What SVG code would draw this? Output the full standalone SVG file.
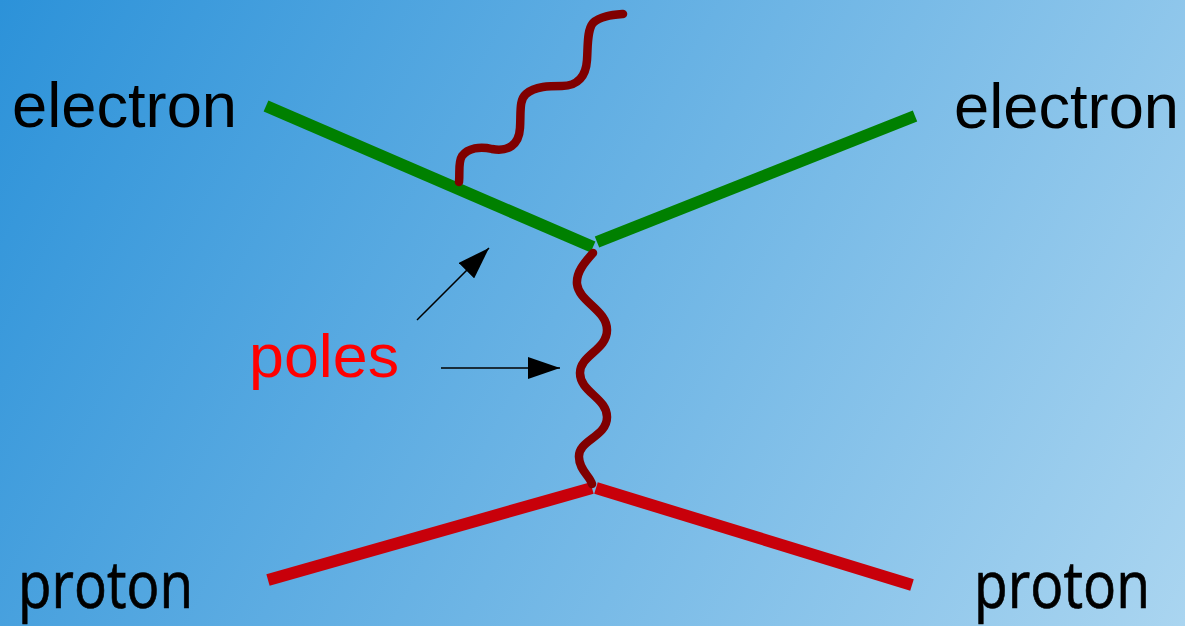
<svg xmlns="http://www.w3.org/2000/svg" width="1185" height="626" viewBox="0 0 1185 626">
<defs>
<linearGradient id="bg" gradientUnits="userSpaceOnUse" x1="0" y1="0" x2="1185" y2="626">
<stop offset="0" stop-color="#2c92d9"/>
<stop offset="1" stop-color="#aad5f0"/>
</linearGradient>
<marker id="ah" markerUnits="userSpaceOnUse" markerWidth="32" markerHeight="22" refX="32" refY="11" orient="auto" viewBox="0 0 32 22">
<path d="M0,0 L32,11 L0,22 z" fill="#000"/>
</marker>
<style>
.lbl{font-family:"Liberation Sans",Arial,sans-serif;fill:#000}
.prt{font-family:"Open Sans","DejaVu Sans",sans-serif;fill:#000;stroke:#000;stroke-width:0.7}
.el{stroke:#008000;stroke-width:12;fill:none}
.pr{stroke:#c8000a;stroke-width:12;fill:none}
.ph{stroke:#800000;stroke-width:8.5;fill:none;stroke-linecap:round;stroke-linejoin:round}
.ar{stroke:#000;stroke-width:1.5;fill:none;marker-end:url(#ah)}
</style>
</defs>
<rect width="1185" height="626" fill="url(#bg)"/>
<g id="connectors">
<line class="el" x1="266" y1="106" x2="593" y2="247"/>
<line class="el" x1="597" y1="242" x2="915" y2="116"/>
<line class="pr" x1="268" y1="580" x2="592" y2="488"/>
<line class="pr" x1="596" y1="488" x2="912" y2="585"/>
<path class="ph" d="M593,253 C585,262 576,272 577,284 C579,302 607,310 607,330 C607,350 580,355 580,373 C580,392 607,398 607,417 C607,437 578,440 579,457 C579,470 590,476 592,484"/>
<path class="ph" d="M459,182 C460,172 458,162 462,156 C468,148 480,146 492,149 C508,152 519,145 520,128 C521,112 519,100 526,94 C535,86 550,86 562,86 C578,86 586,76 587,60 C588,45 587,30 593,23 C600,16 612,15 623,14"/>
<line class="ar" x1="417" y1="320" x2="489" y2="248"/>
<line class="ar" x1="441" y1="368" x2="560" y2="368"/>
</g>
<g id="electron-in"><text class="lbl" x="12" y="127" font-size="63" textLength="225" lengthAdjust="spacingAndGlyphs">electron</text></g>
<g id="electron-out"><text class="lbl" x="954" y="128" font-size="63" textLength="225" lengthAdjust="spacingAndGlyphs">electron</text></g>
<g id="proton-in"><text class="prt" x="18" y="608" font-size="65" textLength="175" lengthAdjust="spacingAndGlyphs">proton</text></g>
<g id="proton-out"><text class="prt" x="974" y="608" font-size="65" textLength="176" lengthAdjust="spacingAndGlyphs">proton</text></g>
<g id="poles"><text class="lbl" x="249" y="377" font-size="61" textLength="150" lengthAdjust="spacingAndGlyphs" style="fill:#ff0000">poles</text></g>
</svg>
